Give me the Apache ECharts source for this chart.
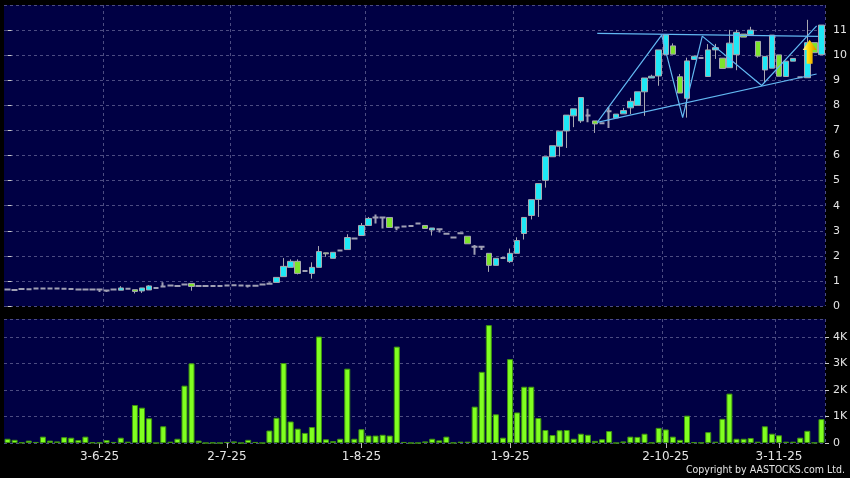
<!DOCTYPE html>
<html><head><meta charset="utf-8">
<script src="https://cdn.jsdelivr.net/npm/echarts/dist/echarts.min.js"></script>
<style>html,body{margin:0;padding:0;background:#000;}#c{width:850px;height:478px;}</style>
</head><body><div id="c"></div>
<script>
// ---- data ----
const opens = [0.66,0.64,0.68,0.67,0.70,0.70,0.70,0.70,0.69,0.68,
 0.66,0.66,0.66,0.66,0.62,0.66,0.63,0.69,0.65,0.60,
 0.64,0.72,0.78,0.82,0.80,0.86,0.90,0.80,0.80,0.80,
 0.80,0.82,0.83,0.82,0.81,0.81,0.86,0.89,0.94,1.17,
 1.54,1.78,1.40,1.30,1.54,2.12,1.90,2.21,2.25,2.69,
 2.81,3.21,3.53,3.53,3.53,3.13,3.17,3.19,3.29,3.21,
 3.03,3.06,2.88,2.73,2.90,2.78,2.36,2.36,2.10,1.62,
 1.91,1.77,2.10,2.89,3.61,4.25,5.01,5.95,6.37,6.98,
 7.58,7.38,7.59,7.38,7.29,7.76,7.50,7.66,7.90,8.00,
 8.54,9.09,9.17,10.03,10.37,9.14,8.28,9.83,9.89,9.15,
 10.21,9.88,9.50,10.02,10.84,10.82,10.55,9.41,9.48,10.01,
 9.15,9.76,9.12,9.10,10.50,10.02];
const closes = [0.66,0.64,0.68,0.67,0.70,0.70,0.70,0.70,0.69,0.68,
 0.66,0.66,0.66,0.66,0.62,0.66,0.72,0.69,0.58,0.72,
 0.80,0.72,0.78,0.82,0.80,0.86,0.78,0.80,0.80,0.80,
 0.80,0.82,0.83,0.82,0.81,0.81,0.86,0.89,1.14,1.58,
 1.78,1.30,1.40,1.54,2.17,2.08,2.14,2.21,2.73,2.69,
 3.21,3.49,3.53,3.53,3.13,3.13,3.17,3.19,3.29,3.09,
 3.11,3.06,2.88,2.73,2.90,2.48,2.36,2.36,1.62,1.90,
 1.91,2.10,2.61,3.53,4.24,4.88,5.95,6.39,6.97,7.61,
 7.86,8.31,7.59,7.26,7.29,7.76,7.65,7.79,8.16,8.54,
 9.09,9.16,10.21,10.81,10.04,8.49,9.77,9.96,9.89,10.21,
 10.30,9.47,10.48,10.91,10.72,11.00,9.96,9.95,10.80,9.16,
 9.76,9.87,9.12,10.50,10.10,11.20];
const lows = [0.66,0.64,0.68,0.67,0.70,0.70,0.70,0.70,0.69,0.64,
 0.66,0.66,0.66,0.56,0.56,0.66,0.63,0.69,0.50,0.52,
 0.64,0.72,0.78,0.82,0.80,0.86,0.61,0.80,0.80,0.80,
 0.80,0.82,0.83,0.82,0.74,0.81,0.86,0.89,0.94,1.17,
 1.54,1.26,1.40,1.09,1.54,1.96,1.90,2.21,2.25,2.69,
 2.81,3.21,3.29,3.09,3.13,3.02,3.17,3.19,3.29,3.09,
 2.81,2.93,2.88,2.73,2.90,2.48,2.04,2.23,1.36,1.62,
 1.91,1.72,2.10,2.65,3.45,3.55,4.72,5.95,5.96,6.30,
 7.13,7.30,7.33,6.90,7.29,7.10,7.50,7.66,7.65,8.00,
 7.58,9.09,8.78,10.03,10.04,8.49,7.51,9.83,9.89,9.15,
 9.85,9.47,9.50,9.40,10.72,10.82,9.90,8.90,9.48,9.16,
 9.15,9.76,9.12,9.10,10.10,10.02];
const highs = [0.66,0.64,0.68,0.67,0.70,0.70,0.70,0.70,0.69,0.72,
 0.66,0.66,0.66,0.66,0.64,0.66,0.79,0.69,0.65,0.72,
 0.83,0.72,0.95,0.82,0.80,0.86,0.90,0.80,0.80,0.80,
 0.80,0.82,0.83,0.82,0.81,0.81,0.86,0.95,1.14,1.91,
 1.86,1.86,1.40,1.74,2.39,2.12,2.14,2.21,2.86,2.69,
 3.31,3.55,3.65,3.53,3.53,3.13,3.17,3.19,3.29,3.21,
 3.11,3.06,2.88,2.73,2.90,2.78,2.43,2.36,2.10,1.90,
 1.91,2.29,2.74,3.53,4.24,4.88,5.95,6.39,6.97,7.61,
 7.86,8.31,7.86,7.38,7.29,7.92,7.65,7.90,8.30,8.54,
 9.09,9.22,10.21,10.81,10.47,9.25,9.90,9.96,9.89,10.44,
 10.45,9.88,11.01,11.01,10.84,11.13,10.55,9.95,10.80,10.01,
 9.76,9.87,9.12,11.41,10.50,11.20];
const volumes = [160,120,20,90,40,240,90,60,220,200,
 110,240,20,10,110,40,200,50,1430,1330,
 930,0,630,50,160,2160,3000,90,0,10,
 0,40,60,0,120,40,0,470,950,3010,
 810,540,380,600,4010,140,70,160,2800,160,
 520,280,280,310,280,3630,40,0,0,60,
 160,100,240,10,50,50,1370,2680,4440,1080,
 200,3160,1150,2120,2120,940,490,300,480,490,
 160,350,310,80,140,450,0,60,240,230,
 350,10,570,510,240,120,1030,30,10,410,
 50,910,1860,160,160,190,50,630,350,290,
 50,50,200,460,10,900];
const categories = opens.map((_, i) => 'D' + (i + 1));
const dateLabels = ['3-6-25', '2-7-25', '1-8-25', '1-9-25', '2-10-25', '3-11-25'];
const dateLabelIndex = [13, 31, 50, 71, 93, 109];
const dateGridIndex = [14, 32, 51, 72, 93, 109];
// trend-line annotations: [bar position, price]
const trendTop = [[83.32, 10.87], [114.5, 10.75]];
const trendLow = [[83.32, 7.32], [114.32, 9.25]];
const zigzag = [[83.32, 7.32], [92.42, 10.80], [95.39, 7.51], [98.16, 10.76], [106.55, 8.79], [114.32, 11.17]];
const arrowMark = [[113.33, 10.14]];

// ---- chart ----
const labelMap = {};
dateLabelIndex.forEach((idx, k) => { labelMap[idx] = dateLabels[k]; });
const gridSet = new Set(dateGridIndex);
const GRIDC = '#4c4c82';
const TXT = '#e4e4e4';
const FONT = 'DejaVu Sans';
const TREND = '#62b8f2';

const candleData = opens.map((o, i) => {
  const item = { value: [o, closes[i], lows[i], highs[i]] };
  if (o === closes[i]) {
    item.itemStyle = { borderColor: '#a0a0b4', borderColor0: '#a0a0b4', borderWidth: 2 };
  }
  return item;
});

const splitX = { show: true, interval: (i) => gridSet.has(i), lineStyle: { color: GRIDC, type: [3, 3], width: 1 } };
const splitY = { show: true, lineStyle: { color: GRIDC, type: [3, 3], width: 1 } };

const chart = echarts.init(document.getElementById('c'), null, { renderer: 'canvas' });
chart.setOption({
  animation: false,
  backgroundColor: '#000000',
  grid: [
    { left: 4, width: 821, top: 5, height: 301, show: true, backgroundColor: '#000044', borderWidth: 0, containLabel: false, outerBoundsMode: 'none' },
    { left: 4, width: 821, top: 319, height: 124, show: true, backgroundColor: '#000044', borderWidth: 0, containLabel: false, outerBoundsMode: 'none' }
  ],
  xAxis: [
    { type: 'category', gridIndex: 0, data: categories, boundaryGap: true,
      axisLine: { show: false }, axisTick: { show: false }, axisLabel: { show: false }, splitLine: splitX },
    { type: 'category', gridIndex: 1, data: categories, boundaryGap: true,
      axisLine: { show: false },
      axisTick: { show: true, alignWithLabel: true, interval: (i) => labelMap[i] !== undefined, length: 5, lineStyle: { color: '#bbbbbb' } },
      axisLabel: { show: true, interval: (i) => labelMap[i] !== undefined, formatter: (v, i) => labelMap[i] || '',
        color: TXT, fontFamily: FONT, fontSize: 12, margin: 8 },
      splitLine: splitX },
    { type: 'value', gridIndex: 0, min: -0.5, max: categories.length - 0.5, show: false }
  ],
  yAxis: [
    { type: 'value', gridIndex: 0, position: 'right', min: 0, max: 12, interval: 1,
      axisLine: { show: false },
      axisTick: { show: true, length: 4, lineStyle: { color: '#cccccc' } },
      axisLabel: { color: TXT, fontFamily: FONT, fontSize: 11, margin: 8, showMaxLabel: false,
        formatter: (v) => (v >= 12 ? '' : String(v)) },
      splitLine: splitY },
    { type: 'value', gridIndex: 1, position: 'right', min: 0, max: 4670, interval: 1000,
      axisLine: { show: false },
      axisTick: { show: true, length: 4, lineStyle: { color: '#cccccc' } },
      axisLabel: { color: TXT, fontFamily: FONT, fontSize: 11, margin: 8, showMaxLabel: false,
        formatter: (v) => (v === 0 ? '0' : (v % 1000 === 0 ? (v / 1000) + 'K' : '')) },
      splitLine: splitY }
  ],
  series: [
    { type: 'candlestick', xAxisIndex: 0, yAxisIndex: 0, data: candleData, barWidth: 6, z: 2,
      itemStyle: { color: '#1ee8f6', color0: '#7ee42c', borderColor: '#a8a8b0', borderColor0: '#a8a8b0', borderWidth: 1 } },
    { type: 'bar', xAxisIndex: 1, yAxisIndex: 1, data: volumes, barWidth: 6,
      itemStyle: { color: '#80ff20', borderColor: '#3f9410', borderWidth: 1 } },
    { type: 'line', xAxisIndex: 2, yAxisIndex: 0, data: trendTop, symbol: 'none', silent: true, z: 5,
      lineStyle: { color: TREND, width: 1.2 } },
    { type: 'line', xAxisIndex: 2, yAxisIndex: 0, data: trendLow, symbol: 'none', silent: true, z: 5,
      lineStyle: { color: TREND, width: 1.2 } },
    { type: 'line', xAxisIndex: 2, yAxisIndex: 0, data: zigzag, symbol: 'none', silent: true, z: 5,
      lineStyle: { color: TREND, width: 1.2 } },
    { type: 'scatter', xAxisIndex: 2, yAxisIndex: 0, data: arrowMark, silent: true, z: 20,
      symbol: 'path://M7,0 L14,10 L10,10 L10,23 L4,23 L4,10 L0,10 Z', symbolSize: [14, 24],
      itemStyle: { opacity: 1, color: new echarts.graphic.LinearGradient(0, 0, 1, 0, [
        { offset: 0, color: '#fff59a' }, { offset: 0.45, color: '#ffd600' }, { offset: 1, color: '#d88a00' }]) } }
  ],
  graphic: [
    { type: 'text', right: 5, top: 465, silent: true,
      style: { text: 'Copyright by AASTOCKS.com Ltd.', fill: TXT, fontFamily: '"DejaVu Sans Condensed", "DejaVu Sans"', fontSize: 10.5 } }
  ]
});
</script></body></html>
